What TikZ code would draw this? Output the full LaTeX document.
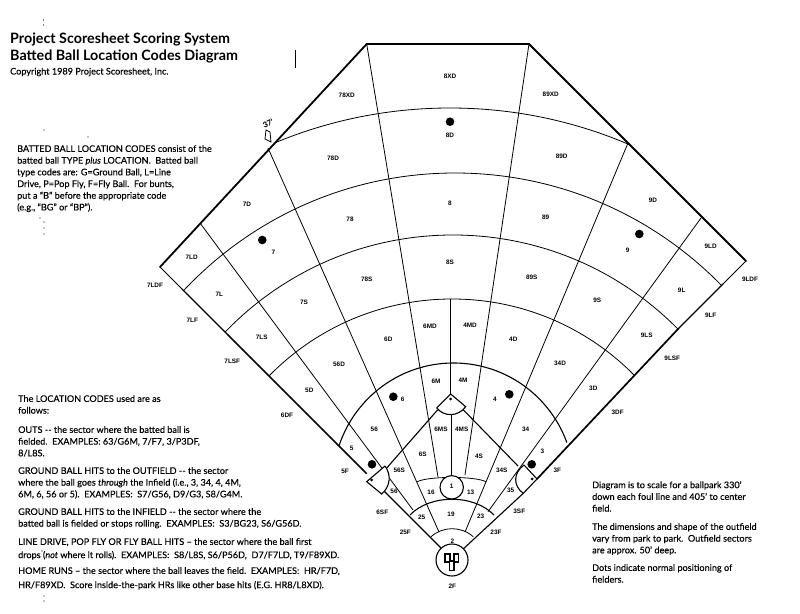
\documentclass[tikz,border=0pt]{standalone}
\usepackage{fontspec}
\setmainfont{Lato}[FakeBold=0.25]
\newfontfamily\titlefont{Lato Bold}
\newfontfamily\codefont{Liberation Sans Bold}
\tikzset{
  fence/.style={line width=1.8pt,line cap=round,line join=miter},
  thinline/.style={line width=0.8pt},
  midline/.style={line width=1.1pt},
  heavy/.style={line width=1.7pt},
  dotmark/.style={fill=black,draw=none},
  codelab/.style={inner sep=0pt,font=\codefont\fontsize{6.4}{7}\selectfont},
  titlelab/.style={inner sep=0pt,anchor=base west,font=\titlefont\fontsize{14.3}{16}\selectfont},
  para/.style={inner sep=0pt,anchor=north west,align=left,font=\fontsize{9.1}{11.7}\selectfont},
}
\newcommand{\lab}[3]{\node[codelab] (c#3) at (#1,#2) {#3};}
\begin{document}
\begin{tikzpicture}[x=1pt,y=-1pt]
\useasboundingbox (0,0) rectangle (800,613);
% named field points
\coordinate (LC) at (160,267);
\coordinate (TL) at (366.7,44);
\coordinate (TR) at (529,44);
\coordinate (RC) at (746,261);
\coordinate (H) at (452,559);
% fence
\draw[fence] (LC) -- (TL) -- (TR) -- (RC);
% foul lines
\draw[thinline] (LC) -- (182,289);
\draw[midline] (182,289) -- (227,334);
\draw[heavy] (227,334) -- (366.7,473.7);
\draw[midline] (382,489) -- (444,551);
\draw[thinline] (RC) -- (723,284);
\draw[midline] (723,284) -- (679,328);
\draw[heavy] (679,328) -- (537,479);
\draw[midline] (523.3,493.3) -- (461,551);
% outfield arcs: clipped circles
\begin{scope}
\clip (LC) -- (TL) -- (TR) -- (RC) -- (H) -- cycle;
\draw[thinline] (450,564) circle[radius=456];
\draw[thinline] (455,545) circle[radius=372];
\draw[thinline] (453,551) circle[radius=316];
\draw[thinline] (452,555) circle[radius=256];
\draw[midline] (453.5,483.5) circle[radius=120.5];
\end{scope}
% long radials
\draw[thinline] (TL) -- (438,477);
\draw[thinline] (TR) -- (465,475);
\draw[thinline] (268,148) -- (439,532);
\draw[thinline] (628,143) -- (465,532);
\draw[thinline] (200,223) -- (413,510);
\draw[thinline] (701,218) -- (488,511.7);
\draw[thinline] (450,299) -- (450,396);
\draw[thinline] (451,415) -- (451,475);
% base paths
\draw[midline] (386.7,468) -- (437.5,410);
\draw[midline] (462.5,409) -- (518,466);
% second base bag
\coordinate (B2t) at (450.7,394);
\coordinate (B2l) at (436.7,408);
\coordinate (B2r) at (465.7,406.7);
\draw[midline,fill=white] (B2l) -- (B2t) -- (B2r) .. controls (458,417) and (444,417) .. (B2l);
\fill[dotmark] (450.7,399) circle[radius=1.5];
% third base bag
\draw[midline,fill=white] (385,466) -- (366.7,481.7) -- (381.7,494) .. controls (391,486) and (391,474) .. (385,466);
\fill[dotmark] (371.7,480) circle[radius=1.5];
% first base bag
\draw[midline,fill=white] (524,465) -- (537,479) -- (523.3,493.3) .. controls (513,486) and (513,473) .. (524,465);
\fill[dotmark] (532,479) circle[radius=1.5];
% infield arcs
\draw[thinline] (417.3,481.7) .. controls (428,476) and (475,476) .. (486,481.7);
\draw[midline] (410,515) .. controls (430,494) and (474,494) .. (494,515);
\draw[thinline] (431,536.7) .. controls (443,526) and (461,526) .. (473.3,536.7);
% pitcher
\draw[midline,fill=white] (451.7,487.3) circle[radius=11.7];
% home plate
\draw[midline,fill=white] (452,560) circle[radius=16];
\draw[midline,fill=white] (445,554) rectangle (450,562);
\draw[midline,fill=white] (454,554) rectangle (458.5,562);
\draw[midline,fill=white] (449.5,561) rectangle (454,570.5);
% fielder dots
\foreach \x/\y in {450/121.7,262.3/240,639.3/234,393.3/396.7,509.3/394.3,372/464.3,531.7/464.3}
  \fill[dotmark] (\x,\y) circle[radius=4.3];
% location labels
\lab{450}{76}{8XD}\lab{346.7}{95.7}{78XD}\lab{550.7}{94}{89XD}
\lab{450}{135.7}{8D}\lab{333}{158}{78D}\lab{561.7}{156}{89D}
\lab{450}{203}{8}\lab{247}{204}{7D}\lab{653}{200}{9D}
\lab{350}{219.3}{78}\lab{545.7}{217.7}{89}
\lab{191.7}{257.7}{7LD}\lab{273.3}{252.7}{7}\lab{627.7}{250}{9}\lab{710.7}{246.7}{9LD}
\lab{155}{285}{7LDF}\lab{750}{279}{9LDF}
\lab{219.3}{294.3}{7L}\lab{681.7}{290}{9L}
\lab{366.7}{279.3}{78S}\lab{450}{262}{8S}\lab{531.7}{277.3}{89S}
\lab{304}{302.7}{7S}\lab{597.3}{300}{9S}
\lab{192.3}{320}{7LF}\lab{710.7}{315}{9LF}
\lab{261.7}{337.7}{7LS}\lab{646.7}{335}{9LS}
\lab{430}{326}{6MD}\lab{470}{325}{4MD}
\lab{388.3}{339.3}{6D}\lab{513.3}{339}{4D}
\lab{339}{364}{56D}\lab{560}{363}{34D}
\lab{232.3}{361.3}{7LSF}\lab{672.3}{358}{9LSF}
\lab{309.3}{390.7}{5D}\lab{593.3}{388.7}{3D}
\lab{287}{415.7}{6DF}\lab{617.7}{412}{3DF}
\lab{436}{381}{6M}\lab{463}{380}{4M}
\lab{402.7}{399.3}{6}\lab{495}{399.3}{4}
\lab{374.3}{429}{56}\lab{525.7}{429}{34}
\lab{441}{429.3}{6MS}\lab{461.7}{429.3}{4MS}
\lab{351.7}{448.3}{5}\lab{542.3}{451.7}{3}
\lab{422.7}{454}{6S}\lab{479}{456}{4S}
\lab{345}{471.7}{5F}\lab{557.3}{470}{3F}
\lab{399.3}{470}{56S}\lab{501.7}{470}{34S}
\lab{394}{491.7}{56}\lab{510.7}{490}{35}
\lab{451.7}{486.7}{1}\lab{431}{492.3}{16}\lab{470.7}{492.3}{13}
\lab{382.3}{512}{6SF}\lab{519.3}{511}{3SF}
\lab{421.7}{517.7}{25}\lab{451}{514}{19}\lab{480.7}{516.7}{23}
\lab{405.3}{532.7}{25F}\lab{496}{532.3}{23F}
\lab{452.3}{541.7}{2}\lab{452.3}{586}{2F}
% handwritten note and scan marks
\node[inner sep=0pt,rotate=25,font=\fontsize{7.5}{8}\selectfont] (note) at (268,123) {37'};
\draw[thinline] (266,130) -- (265,139) -- (271,142) -- (270,132) -- cycle;
\draw[thinline] (295,50) -- (295,68);
\foreach \x/\y in {43.5/20,43.5/25,44/130,88/137,40/218,44/222,44/228,44/234,42/551,44/596,44/601}
  \fill[dotmark] (\x,\y) circle[radius=0.6];
% titles
\node[titlelab] (t1) at (10,43) {Project Scoresheet Scoring System};
\node[titlelab] (t2) at (10,60) {Batted Ball Location Codes Diagram};
\node[inner sep=0pt,anchor=base west,font=\fontsize{9.1}{10}\selectfont] (t3) at (10,74.5) {Copyright 1989 Project Scoresheet, Inc.};
% paragraphs
\node[para] (p1) at (17,145) {BATTED BALL LOCATION CODES consist of the\\batted ball TYPE \textit{plus} LOCATION.\ \ Batted ball\\type codes are: G=Ground Ball, L=Line\\Drive, P=Pop Fly, F=Fly Ball.\ \ For bunts,\\put a ``B'' before the appropriate code\\(e.g., ``BG'' or ``BP'').};
\node[para] (p2) at (18,395) {The LOCATION CODES used are as\\follows:};
\node[para] (p3) at (18,426) {OUTS -{}- the sector where the batted ball is\\fielded.\ \ EXAMPLES: 63/G6M, 7/F7, 3/P3DF,\\8/L8S.};
\node[para] (p4) at (18,467) {GROUND BALL HITS to the OUTFIELD -{}- the sector\\where the ball goes \textit{through} the Infield (i.e., 3, 34, 4, 4M,\\6M, 6, 56 or 5).\ \ EXAMPLES:\ \ S7/G56, D9/G3, S8/G4M.};
\node[para] (p5) at (18,508) {GROUND BALL HITS to the INFIELD -{}- the sector where the\\batted ball is fielded or stops rolling.\ \ EXAMPLES:\ \ S3/BG23, S6/G56D.};
\node[para] (p6) at (18,538) {LINE DRIVE, POP FLY OR FLY BALL HITS -- the sector where the ball first\\[1.5pt]drops (\textit{not} where it rolls).\ \ EXAMPLES:\ \ S8/L8S, S6/P56D,\ \ D7/F7LD, T9/F89XD.};
\node[para] (p7) at (18,567) {HOME RUNS -- the sector where the ball leaves the field.\ \ EXAMPLES:\ \ HR/F7D,\\[2.5pt]HR/F89XD.\ \ Score inside-the-park HRs like other base hits (E.G. HR8/L8XD).};
\node[para] (p8) at (592,481) {Diagram is to scale for a ballpark 330'\\down each foul line and 405' to center\\field.};
\node[para] (p9) at (592,523) {The dimensions and shape of the outfield\\vary from park to park.\ \ Outfield sectors\\are approx. 50' deep.};
\node[para] (p10) at (592,564) {Dots indicate normal positioning of\\fielders.};
\end{tikzpicture}
\end{document}
